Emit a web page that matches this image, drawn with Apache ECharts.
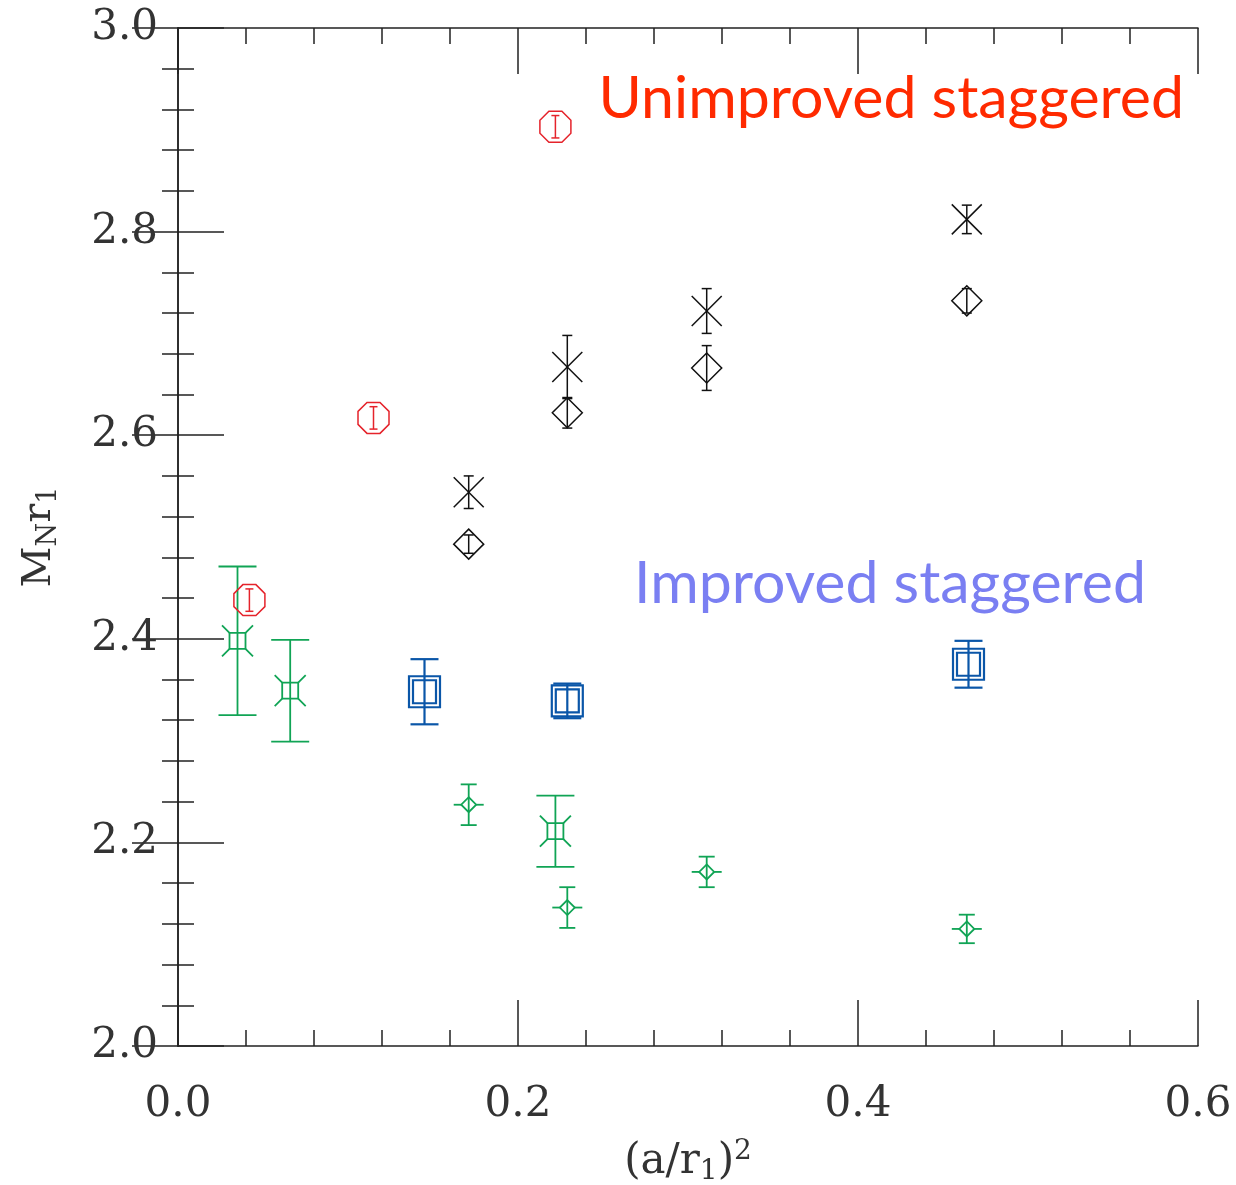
<!DOCTYPE html>
<html>
<head>
<meta charset="utf-8">
<script src="https://cdn.jsdelivr.net/npm/echarts@6/dist/echarts.min.js"></script>
<style>
  html, body { margin: 0; padding: 0; background: #fff; }
  #chart { width: 1236px; height: 1185px; }
</style>
</head>
<body>
<div id="chart"></div>
<script>
// data: x = (a/r1)^2, y = M_N r1, err = half-length of error bar
var greenSqX   = [0.035, 0.066, 0.222];
var greenSqY   = [2.398, 2.349, 2.211];
var greenSqErr = [0.073, 0.050, 0.035];

var greenDiaX   = [0.171, 0.229, 0.311, 0.464];
var greenDiaY   = [2.237, 2.136, 2.171, 2.115];
var greenDiaErr = [0.020, 0.020, 0.015, 0.014];

var blueX   = [0.145, 0.229, 0.465];
var blueY   = [2.348, 2.339, 2.375];
var blueErr = [0.032, 0.017, 0.023];

var blackXX   = [0.171, 0.229, 0.311, 0.464];
var blackXY   = [2.544, 2.667, 2.722, 2.812];
var blackXErr = [0.016, 0.031, 0.022, 0.014];

var blackDiaX   = [0.171, 0.229, 0.311, 0.464];
var blackDiaY   = [2.493, 2.622, 2.666, 2.732];
var blackDiaErr = [0.009, 0.015, 0.022, 0.012];

var redX   = [0.042, 0.115, 0.222];
var redY   = [2.438, 2.617, 2.903];
var redErr = [0.011, 0.011, 0.011];

var xTicks = [0.0, 0.2, 0.4, 0.6];
var yTicks = [2.0, 2.2, 2.4, 2.6, 2.8, 3.0];

function rows(xs, ys, es) {
  return xs.map(function (x, i) { return [x, ys[i], ys[i] - es[i], ys[i] + es[i]]; });
}

// marker shapes, in pixels around the point
function shapes(kind, c, color, lw) {
  var x = c[0], y = c[1];
  var st = { stroke: color, lineWidth: lw, fill: null };
  function poly(pts) { return { type: 'polygon', shape: { points: pts }, style: st }; }
  function ln(x1, y1, x2, y2) { return { type: 'line', shape: { x1: x1, y1: y1, x2: x2, y2: y2 }, style: st }; }
  var out = [];
  if (kind === 'fancySq') {
    var s = 8, a = 15.5;
    out.push(poly([[x - s, y - s], [x + s, y - s], [x + s, y + s], [x - s, y + s]]));
    out.push(ln(x - s, y - s, x - a, y - a), ln(x + s, y - s, x + a, y - a),
             ln(x + s, y + s, x + a, y + a), ln(x - s, y + s, x - a, y + a));
  } else if (kind === 'smallDia') {
    var d = 7.5;
    out.push(poly([[x, y - d], [x + d, y], [x, y + d], [x - d, y]]));
    out.push(ln(x - 15, y, x - d, y), ln(x + d, y, x + 15, y));
  } else if (kind === 'doubleSq') {
    var o = 15.5, i2 = 11.5;
    out.push(poly([[x - o, y - o], [x + o, y - o], [x + o, y + o], [x - o, y + o]]));
    out.push(poly([[x - i2, y - i2], [x + i2, y - i2], [x + i2, y + i2], [x - i2, y + i2]]));
  } else if (kind === 'cross') {
    var k = 15;
    out.push(ln(x - k, y - k, x + k, y + k), ln(x - k, y + k, x + k, y - k));
  } else if (kind === 'dia') {
    var q = 15;
    out.push(poly([[x, y - q], [x + q, y], [x, y + q], [x - q, y]]));
  } else if (kind === 'oct') {
    var r = 15.5, t = 6.5;
    out.push(poly([[x - t, y - r], [x + t, y - r], [x + r, y - t], [x + r, y + t],
                   [x + t, y + r], [x - t, y + r], [x - r, y + t], [x - r, y - t]]));
  }
  return out;
}

function makeSeries(name, data, kind, color, lw, cap) {
  return {
    name: name,
    type: 'custom',
    data: data,
    clip: false,
    renderItem: function (params, api) {
      var p = api.coord([api.value(0), api.value(1)]);
      var lo = api.coord([api.value(0), api.value(2)]);
      var hi = api.coord([api.value(0), api.value(3)]);
      var st = { stroke: color, lineWidth: lw };
      var kids = [
        { type: 'line', shape: { x1: lo[0], y1: lo[1], x2: hi[0], y2: hi[1] }, style: st },
        { type: 'line', shape: { x1: lo[0] - cap, y1: lo[1], x2: lo[0] + cap, y2: lo[1] }, style: st },
        { type: 'line', shape: { x1: hi[0] - cap, y1: hi[1], x2: hi[0] + cap, y2: hi[1] }, style: st }
      ];
      return { type: 'group', children: kids.concat(shapes(kind, p, color, lw)) };
    }
  };
}

var green = '#10a455', blue = '#0a56a8', red = '#e5232b', black = '#111';

var myChart = echarts.init(document.getElementById('chart'));

var tickLabel = { fontFamily: 'DejaVu Serif', fontSize: 42, color: '#333' };

function axisCommon(showLabels) {
  return {
    axisLine: { show: true, lineStyle: { color: '#222', width: 1.5 } },
    axisTick: { show: true, inside: true, length: 46, lineStyle: { color: '#222', width: 1.5 } },
    minorTick: { show: true, splitNumber: 5, length: 16, lineStyle: { color: '#222', width: 1.5 } },
    splitLine: { show: false },
    minorSplitLine: { show: false },
    axisLabel: { show: showLabels }
  };
}

var option = {
  animation: false,
  backgroundColor: '#fff',
  grid: { left: 178, top: 28, right: 38, bottom: 139, containLabel: false, outerBoundsMode: 'none' },
  xAxis: [
    Object.assign(axisCommon(true), {
      type: 'value', position: 'bottom', min: xTicks[0], max: xTicks[xTicks.length - 1], interval: 0.2,
      axisLabel: Object.assign({ show: true, margin: 38, formatter: function (v) { return v.toFixed(1); } }, tickLabel),
      name: '{t|(a/r}{s|1}{t|)}{p|2}', nameLocation: 'middle', nameGap: 92,
      nameTextStyle: {
        rich: {
          t: { fontFamily: 'DejaVu Serif', fontSize: 42, color: '#333' },
          s: { fontFamily: 'DejaVu Serif', fontSize: 28, color: '#333', verticalAlign: 'bottom', padding: [20, 0, 0, 0] },
          p: { fontFamily: 'DejaVu Serif', fontSize: 28, color: '#333', verticalAlign: 'top', padding: [0, 0, 20, 0] }
        }
      }
    }),
    Object.assign(axisCommon(false), {
      type: 'value', position: 'top', min: 0, max: 0.6, interval: 0.2
    })
  ],
  yAxis: [
    Object.assign(axisCommon(true), {
      type: 'value', position: 'left', min: yTicks[0], max: yTicks[yTicks.length - 1], interval: 0.2,
      axisLabel: Object.assign({ show: true, margin: 20, formatter: function (v) { return v.toFixed(1); } }, tickLabel),
      name: '{t|M}{s|N}{t|r}{s|1}', nameLocation: 'middle', nameGap: 116, nameRotate: 90,
      nameTextStyle: {
        rich: {
          t: { fontFamily: 'DejaVu Serif', fontSize: 40, color: '#333' },
          s: { fontFamily: 'DejaVu Serif', fontSize: 27, color: '#333', verticalAlign: 'bottom', padding: [18, 0, 0, 0] }
        }
      }
    }),
    Object.assign(axisCommon(false), {
      type: 'value', position: 'right', min: 2, max: 3, interval: 0.2
    })
  ],
  graphic: [
    { type: 'text', right: 52, top: 69, style: { text: 'Unimproved staggered', fill: '#ff2a00', font: '59px Lato' } },
    { type: 'text', right: 90, top: 554, style: { text: 'Improved staggered', fill: '#7a7ff2', font: '59px Lato' } }
  ],
  series: [
    makeSeries('greenSq', rows(greenSqX, greenSqY, greenSqErr), 'fancySq', green, 1.8, 19),
    makeSeries('greenDia', rows(greenDiaX, greenDiaY, greenDiaErr), 'smallDia', green, 1.8, 8),
    makeSeries('blue', rows(blueX, blueY, blueErr), 'doubleSq', blue, 2.2, 14),
    makeSeries('blackX', rows(blackXX, blackXY, blackXErr), 'cross', black, 1.5, 5),
    makeSeries('blackDia', rows(blackDiaX, blackDiaY, blackDiaErr), 'dia', black, 1.5, 5),
    makeSeries('red', rows(redX, redY, redErr), 'oct', red, 1.5, 4)
  ]
};

myChart.setOption(option);
</script>
</body>
</html>
